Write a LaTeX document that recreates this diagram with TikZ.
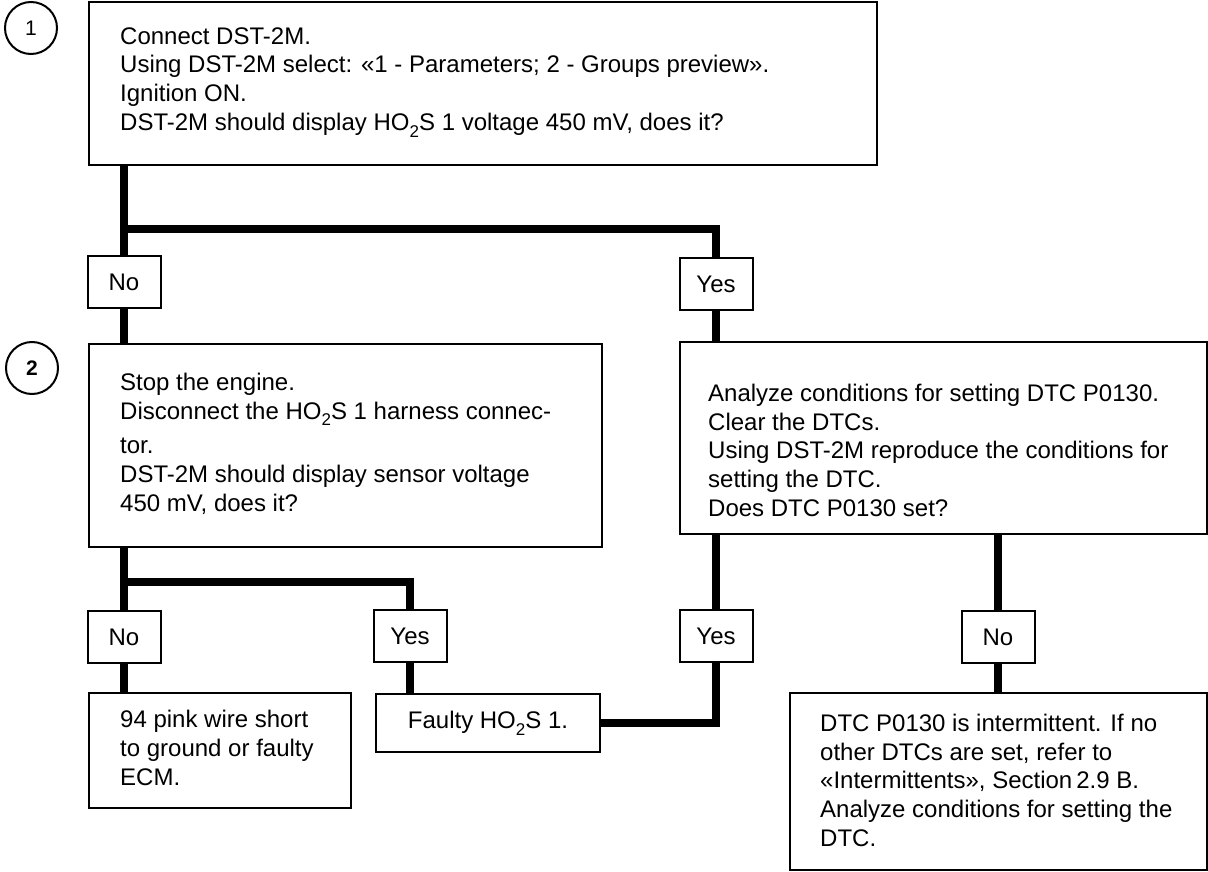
\documentclass[tikz,border=0pt]{standalone}
\usepackage{fontspec}
\setmainfont{Liberation Sans}
% lowered index as in HO2S
\newcommand{\lowidx}[1]{\raisebox{-0.28em}{\fontsize{17}{17}\selectfont #1}}

\begin{document}
\begin{tikzpicture}
  [x=1pt,y=-1pt,font=\fontsize{24}{28.8}\selectfont,
   every node/.style={inner sep=0pt},
   stepbox/.style={draw,line width=2pt,rectangle},
   answer/.style={draw,line width=2pt,minimum width=73pt,minimum height=52pt},
   stepno/.style={draw,circle,line width=2pt,minimum size=52pt,font=\fontsize{21}{21}\selectfont},
   boxtext/.style={anchor=base west,align=left},
   link/.style={line width=7.5pt}]
  \useasboundingbox (0,0) rectangle (1208,872);

  % step numbers
  \node[stepno] (n1) at (31,28) {1};
  \node[stepno] (n2) at (32,368) {\bfseries 2};

  % check boxes and results
  \node[stepbox,minimum width=788pt,minimum height=163pt] (q1) at (483,83.5) {};
  \node[stepbox,minimum width=513pt,minimum height=203pt] (q2) at (345.5,445.5) {};
  \node[stepbox,minimum width=527pt,minimum height=192pt] (q3) at (943.5,438) {};
  \node[stepbox,minimum width=262pt,minimum height=115pt] (wire) at (220,750.5) {};
  \node[stepbox,minimum width=224pt,minimum height=58pt] (faulty) at (488,723) {Faulty HO\lowidx{2}S 1.};
  \node[stepbox,minimum width=417pt,minimum height=177pt] (interm) at (998.5,781.5) {};

  % box texts, placed by the baseline of their last line
  \node[boxtext] (q1txt) at (120,130.5) {Connect DST-2M.\\
    Using DST-2M select: «1 - Parameters; 2 - Groups preview».\\
    Ignition ON.\\
    DST-2M should display HO\lowidx{2}S 1 voltage 450 mV, does it?};
  \node[boxtext] (q2txt) at (120,511.5) {Stop the engine.\\
    Disconnect the HO\lowidx{2}S 1 harness connec-\\[6pt]
    tor.\\
    DST-2M should display sensor voltage\\
    450 mV, does it?};
  \node[boxtext] (q3txt) at (708,516.5) {Analyze conditions for setting DTC P0130.\\
    Clear the DTCs.\\
    Using DST-2M reproduce the conditions for\\
    setting the DTC.\\
    Does DTC P0130 set?};
  \node[boxtext] (wiretxt) at (120,785.5) {94 pink wire short\\
    to ground or faulty\\
    ECM.};
  \node[boxtext] (intermtxt) at (820,846.5) {DTC P0130 is intermittent. If no\\
    other DTCs are set, refer to\\
    «Intermittents», Section\,2.9 B.\\
    Analyze conditions for setting the\\
    DTC.};

  % answers
  \node[answer] (no1) at (124,282) {No};
  \node[answer] (yes1) at (716,284) {Yes};
  \node[answer] (no2) at (124,637) {No};
  \node[answer] (yes2) at (410,636) {Yes};
  \node[answer] (yes3) at (716,636) {Yes};
  \node[answer] (no3) at (998,637) {No};

  % branch points
  \coordinate (s1) at (124,229);
  \coordinate (s2) at (124,582);

  \foreach \from/\to in {q1/no1,q2/no2,q3/yes3,q3/no3}
    \draw[link] (\from.south -| \to) -- (\to);
  \foreach \from/\to in {no1/q2,yes1/q3,no2/wire,yes2/faulty,no3/interm}
    \draw[link] (\from) -- (\from |- \to.north);
  \draw[link] (s1) -| (yes1);
  \draw[link] (s2) -| (yes2);
  \draw[link] (faulty) -| (yes3);
\end{tikzpicture}
\end{document}
